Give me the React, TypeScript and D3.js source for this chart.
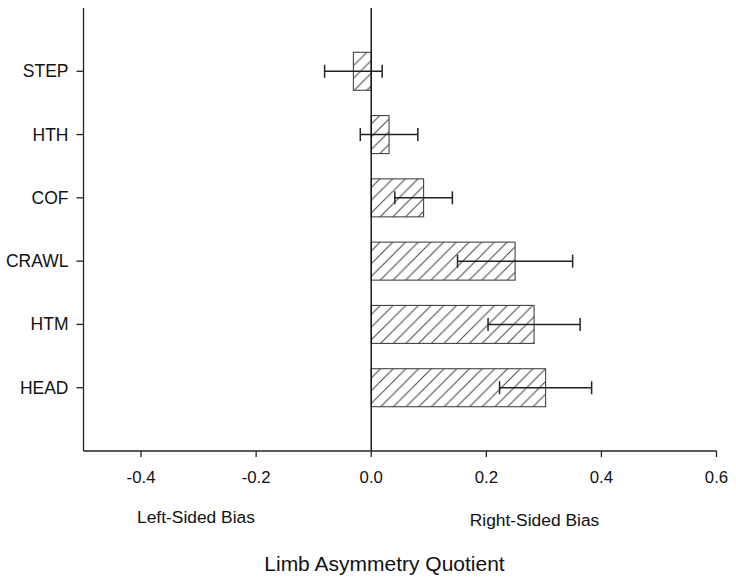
import React, { useEffect, useRef } from 'react';
import * as d3 from 'd3';

const categories = ['STEP', 'HTH', 'COF', 'CRAWL', 'HTM', 'HEAD'];
const means = [-0.031, 0.031, 0.091, 0.25, 0.283, 0.303];
const errors = [0.05, 0.05, 0.05, 0.1, 0.08, 0.08];
const xTicks = [-0.4, -0.2, 0.0, 0.2, 0.4, 0.6];

const W = 736;
const H = 583;

export default function App() {
  const ref = useRef<SVGSVGElement>(null);

  useEffect(() => {
    if (!ref.current) return;
    const svg = d3.select(ref.current);
    svg.selectAll('*').remove();

    const left = 83.5, right = 716.5, top = 8, bottom = 451;
    const font = '"Liberation Sans", Arial, Helvetica, sans-serif';

    const x = d3.scaleLinear().domain([-0.5, 0.6]).range([left, right]);
    const y = d3.scalePoint<string>().domain(categories).range([top, bottom]).padding(1);
    const barH = 38;

    const defs = svg.append('defs');
    const s = 12.7;
    const pat = defs.append('pattern')
      .attr('id', 'hatch')
      .attr('patternUnits', 'userSpaceOnUse')
      .attr('width', s)
      .attr('height', s);
    pat.append('path')
      .attr('d', `M0,${s} L${s},0 M${-s / 2},${s / 2} L${s / 2},${-s / 2} M${s / 2},${s * 1.5} L${s * 1.5},${s / 2}`)
      .attr('stroke', '#444')
      .attr('stroke-width', 1);

    // bars
    svg.append('g').selectAll('rect')
      .data(categories)
      .join('rect')
      .attr('x', (_, i) => Math.min(x(0), x(means[i])))
      .attr('width', (_, i) => Math.abs(x(means[i]) - x(0)))
      .attr('y', d => (y(d) as number) - barH / 2)
      .attr('height', barH)
      .attr('fill', 'url(#hatch)')
      .attr('stroke', '#444')
      .attr('stroke-width', 1.1);

    // error bars
    const eb = svg.append('g').attr('stroke', '#222').attr('stroke-width', 1.5);
    categories.forEach((c, i) => {
      const cy = y(c) as number;
      const x1 = x(means[i] - errors[i]);
      const x2 = x(means[i] + errors[i]);
      eb.append('line').attr('x1', x1).attr('x2', x2).attr('y1', cy).attr('y2', cy);
      eb.append('line').attr('x1', x1).attr('x2', x1).attr('y1', cy - 6.5).attr('y2', cy + 6.5);
      eb.append('line').attr('x1', x2).attr('x2', x2).attr('y1', cy - 6.5).attr('y2', cy + 6.5);
    });

    // zero line
    svg.append('line')
      .attr('x1', x(0)).attr('x2', x(0))
      .attr('y1', top).attr('y2', bottom)
      .attr('stroke', '#111').attr('stroke-width', 1.4);

    // x axis
    const xAxis = svg.append('g');
    xAxis.append('line')
      .attr('x1', left).attr('x2', right)
      .attr('y1', bottom).attr('y2', bottom)
      .attr('stroke', '#222').attr('stroke-width', 1.3);
    xTicks.forEach(t => {
      xAxis.append('line')
        .attr('x1', x(t)).attr('x2', x(t))
        .attr('y1', bottom).attr('y2', bottom + 6)
        .attr('stroke', '#222').attr('stroke-width', 1.3);
      xAxis.append('text')
        .attr('x', x(t)).attr('y', 482.5)
        .attr('text-anchor', 'middle')
        .style('font-family', font).style('font-size', '16.8px')
        .attr('fill', '#111')
        .text(d3.format('.1f')(t).replace('−', '-'));
    });

    // y axis
    const yAxis = svg.append('g');
    yAxis.append('line')
      .attr('x1', left).attr('x2', left)
      .attr('y1', top).attr('y2', bottom)
      .attr('stroke', '#222').attr('stroke-width', 1.3);
    categories.forEach(c => {
      const cy = y(c) as number;
      yAxis.append('line')
        .attr('x1', left - 7).attr('x2', left)
        .attr('y1', cy).attr('y2', cy)
        .attr('stroke', '#222').attr('stroke-width', 1.3);
      yAxis.append('text')
        .attr('x', 68.5).attr('y', cy + 6)
        .attr('text-anchor', 'end')
        .style('font-family', font).style('font-size', '17.5px')
        .attr('fill', '#111')
        .text(c);
    });

    svg.append('text')
      .attr('x', 196).attr('y', 522.5)
      .attr('text-anchor', 'middle')
      .style('font-family', font).style('font-size', '17.4px')
      .attr('fill', '#111')
      .text('Left-Sided Bias');

    svg.append('text')
      .attr('x', 534.5).attr('y', 525.5)
      .attr('text-anchor', 'middle')
      .style('font-family', font).style('font-size', '17.4px')
      .attr('fill', '#111')
      .text('Right-Sided Bias');

    svg.append('text')
      .attr('x', 384.5).attr('y', 570.5)
      .attr('text-anchor', 'middle')
      .style('font-family', font).style('font-size', '21px')
      .attr('fill', '#111')
      .text('Limb Asymmetry Quotient');
  }, []);

  return (
    <div style={{ position: 'absolute', left: 0, top: 0 }}>
      <svg ref={ref} width={W} height={H} style={{ display: 'block', background: '#fff' }} />
    </div>
  );
}
